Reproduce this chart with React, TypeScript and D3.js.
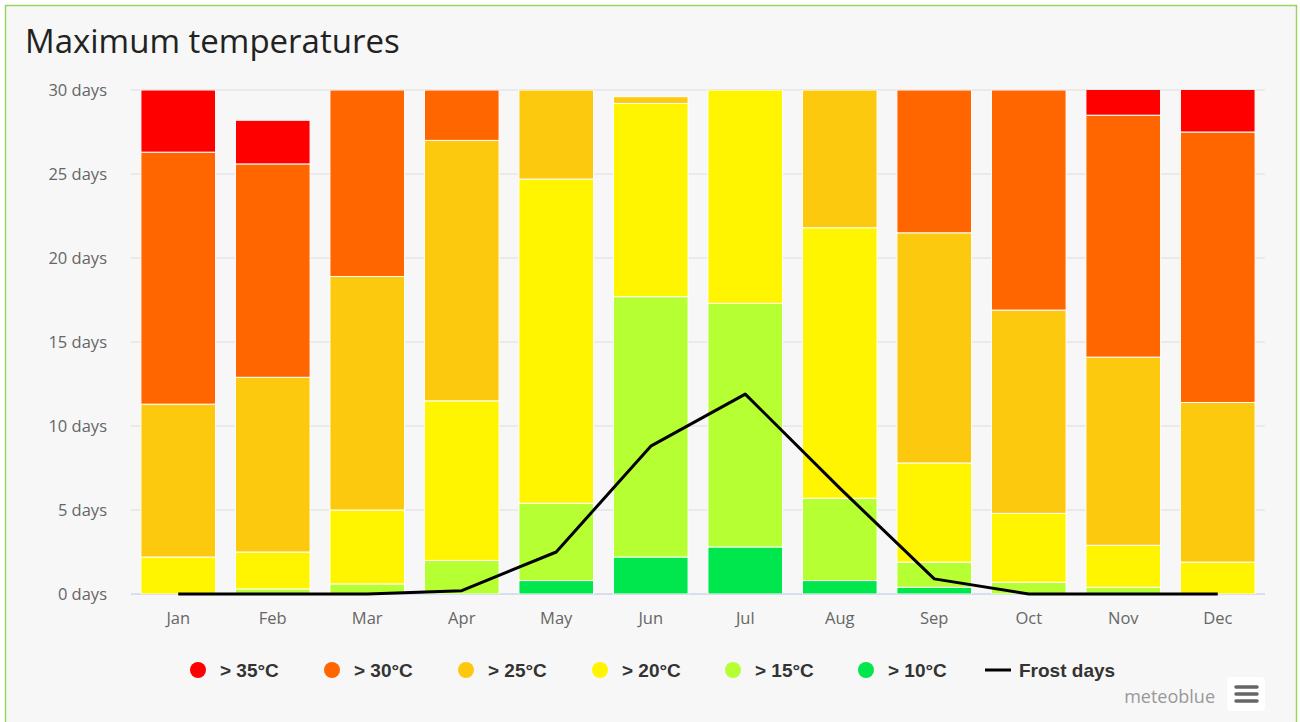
import * as d3 from 'd3';

const months = ['Jan', 'Feb', 'Mar', 'Apr', 'May', 'Jun', 'Jul', 'Aug', 'Sep', 'Oct', 'Nov', 'Dec'];

// days per month with max temperature in each band (stacked bottom -> top)
const over10 = [0, 0, 0, 0, 0.8, 2.2, 2.8, 0.8, 0.4, 0, 0, 0];
const over15 = [0, 0.3, 0.6, 2.0, 4.6, 15.5, 14.5, 4.9, 1.5, 0.7, 0.4, 0];
const over20 = [2.2, 2.2, 4.4, 9.5, 19.3, 11.5, 12.7, 16.1, 5.9, 4.1, 2.5, 1.9];
const over25 = [9.1, 10.4, 13.9, 15.5, 5.3, 0.4, 0, 8.2, 13.7, 12.1, 11.2, 9.5];
const over30 = [15.0, 12.7, 11.1, 3.0, 0, 0, 0, 0, 8.5, 13.1, 14.4, 16.1];
const over35 = [3.7, 2.6, 0, 0, 0, 0, 0, 0, 0, 0, 1.6, 2.6];
const frostDays = [0, 0, 0, 0.2, 2.5, 8.8, 11.9, 6.3, 0.9, 0, 0, 0];

const seriesKeys = ['> 10°C', '> 15°C', '> 20°C', '> 25°C', '> 30°C', '> 35°C'];
const seriesColors = ['#00e64d', '#b5ff33', '#fff500', '#fdc90f', '#ff6600', '#ff0000'];
const yTicks = [0, 5, 10, 15, 20, 25, 30];

export default function App() {
  const width = 1300;
  const height = 722;
  const left = 131;
  const right = 1265;
  const top = 90;
  const bottom = 594;

  const rows = months.map((m, i) => ({
    month: m,
    '> 10°C': over10[i],
    '> 15°C': over15[i],
    '> 20°C': over20[i],
    '> 25°C': over25[i],
    '> 30°C': over30[i],
    '> 35°C': over35[i],
  }));

  const x = d3.scaleBand().domain(months).range([left, right]).padding(0);
  const barW = x.bandwidth() * 0.79;
  const y = d3.scaleLinear().domain([0, 30]).range([bottom, top]);

  const stacked = d3.stack<any>().keys(seriesKeys)(rows);

  const line = d3
    .line<number>()
    .x((_, i) => x(months[i])! + x.bandwidth() / 2)
    .y(d => y(d));

  // legend items (reverse order: hottest first)
  const legendX = [198, 332, 466, 600, 733, 866];
  const legendItems = seriesKeys.map((k, i) => ({ key: k, color: seriesColors[i] })).reverse();

  return (
    <svg
      width={width}
      height={height}
      style={{ position: 'absolute', left: 0, top: 0, fontFamily: 'Open Sans, sans-serif' }}
    >
      <rect x={0} y={0} width={width} height={height} fill="#ffffff" />
      <rect x={5.5} y={5.5} width={1291} height={740} fill="#f7f7f7" stroke="#9ad35f" strokeWidth={1.5} />

      <text x={25} y={53} fontSize={33} fill="#222" fontFamily="Open Sans, sans-serif">
        Maximum temperatures
      </text>

      {/* gridlines + y labels */}
      {yTicks.map(t => (
        <g key={t}>
          <line
            x1={left}
            x2={right}
            y1={y(t)}
            y2={y(t)}
            stroke={t === 0 ? '#ccd6eb' : '#e6e6e6'}
            strokeWidth={1.5}
          />
          <text x={107} y={y(t) + 6} textAnchor="end" fontSize={16.5} fill="#666">
            {t} days
          </text>
        </g>
      ))}

      {/* stacked bars */}
      <clipPath id="plot">
        <rect x={left} y={top} width={right - left} height={bottom - top} />
      </clipPath>
      <g clipPath="url(#plot)">
        {stacked.map((s, si) => (
          <g key={s.key} fill={seriesColors[si]}>
            {s.map((d, i) =>
              d[1] - d[0] > 0 ? (
                <rect
                  key={i}
                  x={x(months[i])! + (x.bandwidth() - barW) / 2}
                  y={y(d[1])}
                  width={barW}
                  height={y(d[0]) - y(d[1])}
                  stroke="#ffffff"
                  strokeWidth={1}
                />
              ) : null
            )}
          </g>
        ))}
      </g>

      {/* frost days line */}
      <path d={line(frostDays)!} fill="none" stroke="#000" strokeWidth={3} strokeLinejoin="round" />

      {/* x labels */}
      {months.map(m => (
        <text key={m} x={x(m)! + x.bandwidth() / 2} y={624} textAnchor="middle" fontSize={16.5} fill="#666">
          {m}
        </text>
      ))}

      {/* legend */}
      <g fontFamily="'Liberation Sans Narrow', 'Arial Narrow', sans-serif" fontWeight="bold" fontSize={19} fill="#333">
        {legendItems.map((it, i) => (
          <g key={it.key}>
            <circle cx={legendX[i]} cy={670} r={8} fill={it.color} />
            <text x={legendX[i] + 22} y={677}>
              {it.key}
            </text>
          </g>
        ))}
        <line x1={985} x2={1011} y1={670} y2={670} stroke="#000" strokeWidth={3} />
        <text x={1019} y={677}>
          Frost days
        </text>
      </g>

      {/* credits + menu */}
      <text x={1215} y={703} textAnchor="end" fontSize={18} fill="#999">
        meteoblue
      </text>
      <rect x={1227} y={677} width={38} height={34} rx={3} fill="#ffffff" />
      {[687, 694, 701].map(yy => (
        <line key={yy} x1={1236} x2={1257} y1={yy} y2={yy} stroke="#666" strokeWidth={3.5} strokeLinecap="round" />
      ))}
    </svg>
  );
}
